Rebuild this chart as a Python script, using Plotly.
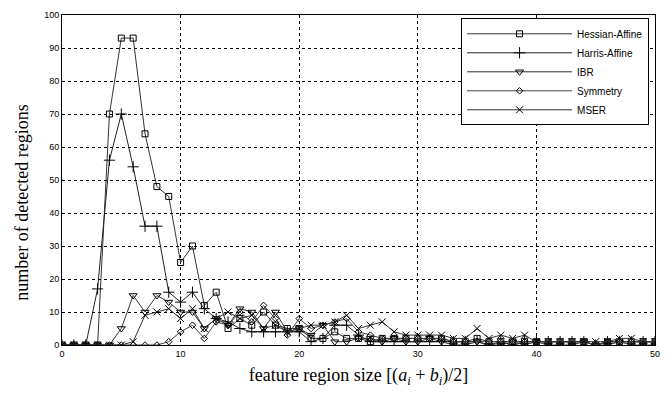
import plotly.graph_objects as go

x_vals = list(range(0, 51))

hessian = [0, 0, 0, 0, 70, 93, 93, 64, 48, 45, 25, 30, 12, 16, 5, 8, 6, 10, 6, 5, 5,
           2, 2, 4, 2, 2, 1, 2, 2, 2, 2, 2, 2, 1, 1, 2, 1, 1, 1, 1, 1,
           1, 1, 1, 1, 0, 1, 1, 1, 1, 1]
harris = [0, 0, 0, 17, 56, 70, 54, 36, 36, 16, 13, 16, 11, 8, 7, 5, 4, 4, 4, 4, 4,
          1, 2, 6, 6, 3, 1, 1, 1, 1, 1, 1, 1, 1, 1, 1, 0, 1, 0, 1, 1,
          1, 1, 1, 1, 0, 1, 1, 1, 1, 1]
ibr = [0, 0, 0, 0, 0, 5, 15, 10, 15, 13, 10, 10, 5, 8, 6, 11, 10, 5, 10, 4, 5,
       3, 6, 1, 1, 2, 2, 1, 2, 1, 1, 2, 1, 0, 0, 1, 0, 0, 1, 0, 1,
       0, 0, 0, 1, 0, 0, 1, 0, 0, 0]
symmetry = [0, 0, 0, 0, 0, 0, 0, 0, 0, 1, 4, 6, 2, 7, 6, 10, 7, 12, 8, 3, 8,
            5, 6, 7, 8, 4, 3, 2, 2, 2, 2, 2, 2, 1, 1, 1, 1, 1, 1, 1, 1,
            1, 1, 1, 1, 0, 1, 1, 1, 1, 1]
mser = [0, 0, 0, 0, 0, 0, 1, 9, 10, 11, 8, 11, 5, 8, 10, 8, 9, 5, 6, 4, 5,
        6, 6, 7, 9, 5, 6, 7, 4, 3, 3, 3, 3, 2, 2, 5, 2, 3, 2, 3, 1,
        1, 1, 1, 1, 1, 1, 2, 2, 1, 1]

names = ["Hessian-Affine", "Harris-Affine", "IBR", "Symmetry", "MSER"]
series = [hessian, harris, ibr, symmetry, mser]
symbols = ["square-open", "cross-thin-open", "triangle-down-open", "diamond-open", "x-thin-open"]
sizes = [6, 8, 7, 5, 7]
line_colors = ["#333333", "#222222", "#333333", "#444444", "#333333"]

x_title = "feature region size [(<i>a<sub>i</sub></i> + <i>b<sub>i</sub></i>)/2]"
y_title = "number of detected regions"

fig = go.Figure()
for name, ys, sym, sz, lc in zip(names, series, symbols, sizes, line_colors):
    fig.add_trace(go.Scatter(
        x=x_vals, y=ys, name=name, mode="lines+markers",
        line=dict(color=lc, width=1),
        marker=dict(symbol=sym, size=sz, color="#000000", line=dict(width=1, color="#000000")),
    ))

axis_common = dict(
    showline=True, linecolor="#000000", linewidth=1, mirror=True,
    showgrid=True, gridcolor="#000000", griddash="dot", gridwidth=1,
    zeroline=False, ticks="", tickfont=dict(family="Liberation Sans", size=9, color="#000000"),
)

fig.update_layout(
    width=672, height=401,
    margin=dict(l=62, r=17, t=10, b=56),
    paper_bgcolor="#ffffff", plot_bgcolor="#ffffff",
    xaxis=dict(range=[0, 50], tick0=0, dtick=10, **axis_common,
               title=dict(text=x_title,
                          font=dict(family="Liberation Serif", size=18, color="#000000"), standoff=10)),
    yaxis=dict(range=[0, 100], tick0=0, dtick=10, **axis_common),
    legend=dict(x=0.99, y=0.99, xanchor="right", yanchor="top",
                bgcolor="#ffffff", bordercolor="#000000", borderwidth=1,
                font=dict(family="Liberation Sans", size=10, color="#000000"),
                tracegroupgap=0, itemwidth=105),
    showlegend=True,
    annotations=[dict(text=y_title, textangle=-90, xref="paper", yref="paper",
                      x=-0.068, y=0.43, xanchor="center", yanchor="middle", showarrow=False,
                      font=dict(family="Liberation Serif", size=18, color="#000000"))],
)

fig.write_html("out.html")
